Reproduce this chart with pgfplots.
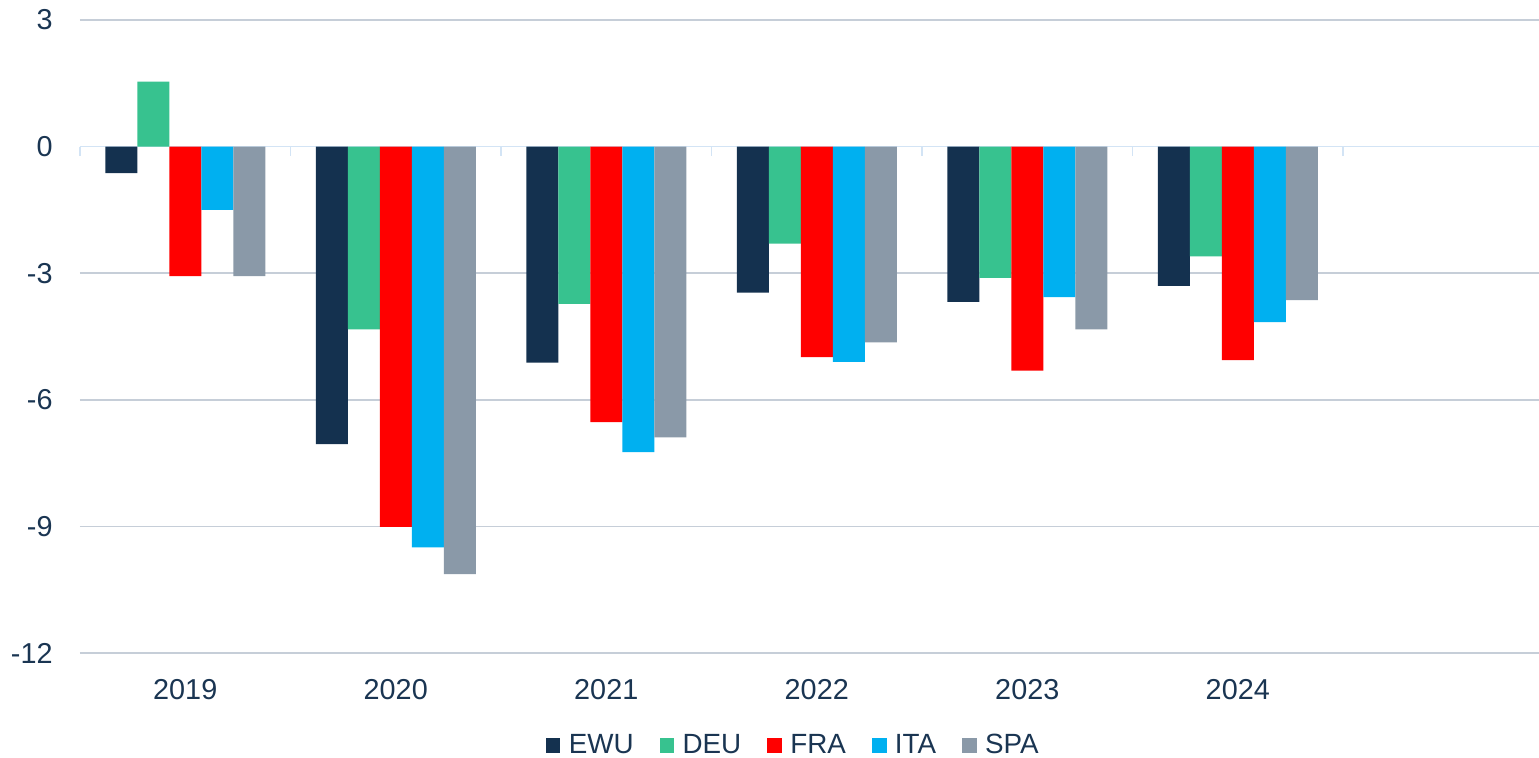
\documentclass[border=0pt]{standalone}
\usepackage{pgfplots}
\pgfplotsset{compat=1.18}
\usepackage{fontspec}
\setmainfont{Liberation Sans}
\definecolor{cEWU}{HTML}{14314F}
\definecolor{cDEU}{HTML}{37C28F}
\definecolor{cFRA}{HTML}{FF0000}
\definecolor{cITA}{HTML}{00B0F0}
\definecolor{cSPA}{HTML}{8A99A8}
\definecolor{ctext}{HTML}{1A3552}
\definecolor{cgrid}{HTML}{C6CED8}
\definecolor{czero}{HTML}{D3E4F5}
\newcommand{\chartfont}{\fontsize{14.4pt}{17pt}\selectfont}
\newcommand{\legfont}{\fontsize{13.9pt}{16pt}\selectfont}
\begin{document}
\begin{tikzpicture}
\useasboundingbox (-40pt,-52.5pt) rectangle (729.5pt,326.5pt);
\begin{axis}[
  at={(0pt,0pt)}, anchor=south west,
  scale only axis,
  width=729.5pt, height=316.5pt,
  xmin=-0.5, xmax=6.431,
  ymin=-12, ymax=3,
  ytick={-12,-9,-6,-3,0,3},
  xtick={0,1,2,3,4,5},
  xticklabels={2019,2020,2021,2022,2023,2024},
  major tick length=0pt,
  axis line style={draw=none},
  ymajorgrids,
  grid style={cgrid, line width=0.85pt},
  /pgf/number format/assume math mode=true,
  yticklabel style={font=\chartfont, text=ctext, anchor=east, inner sep=0pt, xshift=-13.5pt},
  xticklabel style={font=\chartfont, text=ctext, anchor=north, inner sep=0pt, yshift=-13pt},
  ybar=0pt, bar width=16pt,
  clip=false,
  legend columns=5,
  legend style={draw=none, fill=none, inner sep=1pt,
    at={(axis description cs:0.4885,-0.1461)}, anchor=center,
    font=\legfont, text=ctext,
    nodes={inner sep=0.5pt},
    /tikz/every odd column/.append style={column sep=3.7pt},
    /tikz/every even column/.append style={column sep=12.5pt}},
  legend image code/.code={\fill[#1] (0pt,-3.65pt) rectangle (7.3pt,3.65pt);},
]
\draw[czero, line width=0.85pt] (axis cs:-0.5,0) -- (axis cs:6.431,0);
\pgfplotsinvokeforeach{-0.5,0.5,1.5,2.5,3.5,4.5,5.5}{
  \draw[czero, line width=0.85pt] (axis cs:#1,0) -- ++(0pt,-4.5pt);
}
\addplot[fill=cEWU, draw=none] coordinates {(0,-0.63) (1,-7.05) (2,-5.12) (3,-3.46) (4,-3.68) (5,-3.30)};
\addplot[fill=cDEU, draw=none] coordinates {(0,1.54) (1,-4.33) (2,-3.73) (3,-2.30) (4,-3.11) (5,-2.60)};
\addplot[fill=cFRA, draw=none] coordinates {(0,-3.07) (1,-9.01) (2,-6.53) (3,-4.99) (4,-5.31) (5,-5.06)};
\addplot[fill=cITA, draw=none] coordinates {(0,-1.50) (1,-9.50) (2,-7.24) (3,-5.10) (4,-3.57) (5,-4.16)};
\addplot[fill=cSPA, draw=none] coordinates {(0,-3.07) (1,-10.13) (2,-6.89) (3,-4.64) (4,-4.33) (5,-3.64)};
\legend{EWU,DEU,FRA,ITA,SPA}
\end{axis}
\end{tikzpicture}
\end{document}
